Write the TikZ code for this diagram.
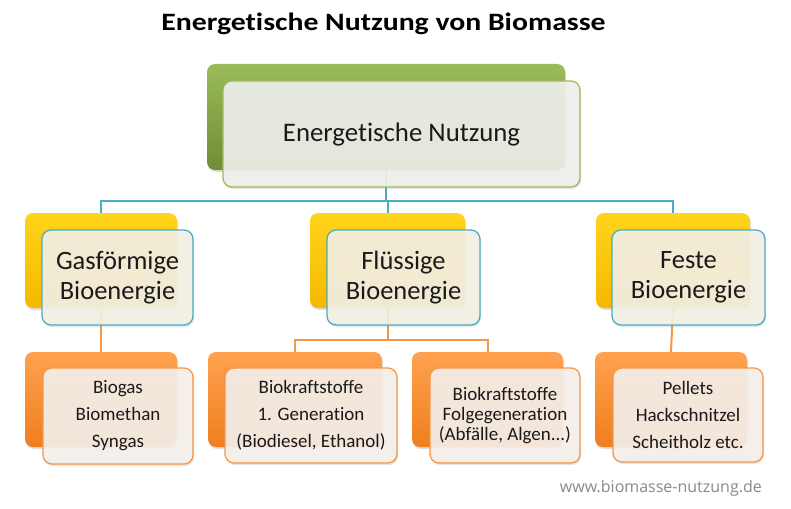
\documentclass[tikz,border=0pt]{standalone}
\usepackage{fontspec}
\setmainfont[Ligatures=NoCommon]{Carlito}
\newfontfamily\footfont{Open Sans}
\usetikzlibrary{shadows}
\definecolor{grnA}{HTML}{9BBB59}
\definecolor{grnB}{HTML}{718C36}
\definecolor{yelA}{HTML}{FFD41C}
\definecolor{yelB}{HTML}{F5B800}
\definecolor{oraA}{HTML}{FFA24F}
\definecolor{oraB}{HTML}{EF7E1E}
\definecolor{aqua}{HTML}{4BACC6}
\definecolor{orline}{HTML}{F79646}
\definecolor{fronttop}{HTML}{F0F1EC}
\definecolor{frontmid}{HTML}{F4F1E6}
\definecolor{frontlow}{HTML}{F6F1EC}
\definecolor{txt}{HTML}{1A1A1A}
\definecolor{foot}{HTML}{8A8A8A}
\tikzset{
  backbox/.style={rounded corners=8pt, inner sep=0pt, draw=none,
    drop shadow={opacity=0.25, shadow xshift=1pt, shadow yshift=-2pt}},
  greenback/.style={backbox, top color=grnA, bottom color=grnB},
  yellowback/.style={backbox, top color=yelA, bottom color=yelB},
  orangeback/.style={backbox, top color=oraA, bottom color=oraB},
  frontbox/.style={rounded corners=9pt, inner sep=0pt, line width=1.3pt,
    fill opacity=0.9, text opacity=1, align=center, text=txt,
    drop shadow={opacity=0.2, shadow xshift=1pt, shadow yshift=-2pt}},
  topfront/.style={frontbox, draw=grnA, fill=fronttop, font=\fontsize{26.8}{30}\selectfont},
  midfront/.style={frontbox, draw=aqua, fill=frontmid, font=\fontsize{26.5}{30}\selectfont},
  lowfront/.style={frontbox, draw=orline, fill=frontlow, font=\fontsize{19}{27}\selectfont},
  blueline/.style={draw=aqua, line width=2pt},
  orangeline/.style={draw=orline, line width=2pt},
}
\begin{document}
\begin{tikzpicture}[x=1pt,y=-1pt]
\useasboundingbox[fill=white] (0,0) rectangle (791,508);
% title
\node[font=\bfseries\fontsize{25}{28}\selectfont, text=black] (title) at (383.5,24) {\scalebox{1.19}[1]{Energetische Nutzung von Biomasse}};
% back boxes
\node[greenback, minimum width=358pt, minimum height=106pt] (topback) at (386,117) {};
\node[yellowback, minimum width=152pt, minimum height=95pt] (gasback) at (101,260.5) {};
\node[yellowback, minimum width=155pt, minimum height=95pt] (flback) at (387.5,260.5) {};
\node[yellowback, minimum width=154pt, minimum height=95pt] (feback) at (673,260.5) {};
\node[orangeback, minimum width=152pt, minimum height=95pt] (bgback) at (101,399.5) {};
\node[orangeback, minimum width=174pt, minimum height=95pt] (bk1back) at (295,399.5) {};
\node[orangeback, minimum width=151pt, minimum height=95pt] (bk2back) at (487.5,399.5) {};
\node[orangeback, minimum width=152pt, minimum height=95pt] (feback3) at (671,399.5) {};
% connectors
\draw[blueline] (topback.south) -- ++(0,31) coordinate (bus) -| (gasback.north);
\draw[blueline] (bus) -| (flback.north);
\draw[blueline] (bus) -| (feback.north);
\draw[orangeline] (gasback.south) -- (bgback.north);
\draw[orangeline] (flback.south) -- ++(0,32) coordinate (obus) -| (bk1back.north);
\draw[orangeline] (obus) -| (bk2back.north);
\draw[orangeline] (feback.south) -- (feback3.north);
% front boxes
\node[topfront, minimum width=357pt, minimum height=106pt] (top) at (401.5,134) {Energetische Nutzung};
\node[midfront, minimum width=151pt, minimum height=95pt] (gas) at (117.5,277.5) {Gasförmige\\Bioenergie};
\node[midfront, minimum width=153pt, minimum height=95pt] (fl) at (403.5,277.5) {Flüssige\\Bioenergie};
\node[midfront, minimum width=153pt, minimum height=95pt] (fe) at (688.5,277.5) {Feste\\Bioenergie};
\node[lowfront, minimum width=150pt, minimum height=96pt] (bg) at (118,416) {Biogas\\Biomethan\\Syngas};
\node[lowfront, minimum width=172pt, minimum height=95pt] (bk1) at (311,415.5) {Biokraftstoffe\\1. Generation\\(Biodiesel, Ethanol)};
\node[lowfront, minimum width=150pt, minimum height=95pt, font=\fontsize{19}{20}\selectfont] (bk2) at (505,415.5) {Biokraftstoffe\\Folgegeneration\\(Abfälle, Algen...)};
\node[lowfront, minimum width=150pt, minimum height=94pt] (fest) at (688,415) {Pellets\\Hackschnitzel\\Scheitholz etc.};
% footer
\node[font=\footfont\fontsize{16}{18}\selectfont, text=foot, anchor=east, inner sep=0pt] (footer) at (762,488) {www.biomasse-nutzung.de};
\end{tikzpicture}
\end{document}
